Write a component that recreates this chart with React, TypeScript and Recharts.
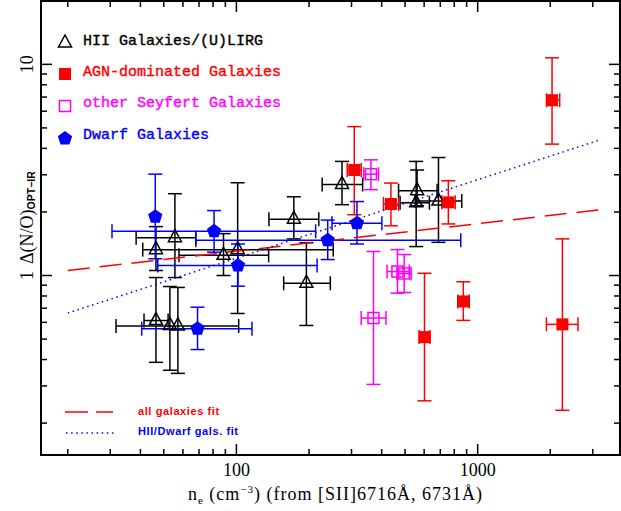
import { ErrorBar, Legend, ReferenceArea, Scatter, ScatterChart, XAxis, YAxis } from 'recharts'

const W = 621
const H = 511
const PLOT_W = 579
const PLOT_H = 454

const X_DOMAIN: [number, number] = [Math.pow(10, 1.19), Math.pow(10, 3.59)]
const Y_DOMAIN: [number, number] = [Math.pow(10, -0.85), Math.pow(10, 1.3)]

const xTicks = [20, 30, 40, 50, 60, 70, 80, 90, 100, 200, 300, 400, 500, 600, 700, 800, 900, 1000, 2000, 3000]
const yTicks = [0.2, 0.3, 0.4, 0.5, 0.6, 0.7, 0.8, 0.9, 1, 2, 3, 4, 5, 6, 7, 8, 9, 10]
const xLabeled = [100, 1000]
const yLabeled = [1, 10]

// HII galaxies / (U)LIRGs
const hiiX = [46.4, 46.4, 53.0, 57.2, 55.6, 88.4, 101.2, 195, 173, 274, 561, 556, 688]
const hiiY = [1.326, 0.612, 0.58, 0.577, 1.511, 1.246, 1.326, 0.919, 1.847, 2.7, 2.52, 2.21, 2.252]
const hiiXLo = [null, 41.4, null, 31.7, 38.4, 57.8, 40.9, 157, 136.4, 226.7, 470, 477, 551]
const hiiXHi = [null, 52.1, null, 102.2, 67.9, 136, 252, 245, 219.5, 333.5, 679, 631, 859]
const hiiYLo = [1.056, 0.388, 0.356, 0.344, 0.978, 1.0, 0.661, 0.58, 1.49, 2.165, 2.14, 1.371, 1.436]
const hiiYHi = [1.704, 0.978, 0.887, 0.878, 2.44, 1.579, 2.75, 1.43, 2.36, 3.47, 3.16, 3.47, 3.62]

// AGN-dominated
const agnX = [308, 437, 756, 2034, 602, 872, 2245]
const agnY = [3.16, 2.18, 2.22, 6.76, 0.511, 0.754, 0.587]
const agnXLo = [288, 407, 710, 1928, 572, 827, 1928]
const agnXHi = [329, 470, 807, 2188, 635, 923, 2605]
const agnYLo = [1.94, 1.72, 1.755, 4.19, 0.255, 0.613, 0.23]
const agnYHi = [5.07, 2.74, 2.81, 10.74, 1.025, 0.934, 1.491]

// other Seyferts
const seyX = [361, 370, 465, 496]
const seyY = [3.02, 0.629, 1.044, 1.022]
const seyXLo = [337, 329, 421, 463]
const seyXHi = [388, 417, 520, 530]
const seyYLo = [2.55, 0.305, 0.825, 0.831]
const seyYHi = [3.53, 1.3, 1.327, 1.257]

// dwarfs
const dwfX = [46.1, 80.8, 101.5, 239, 316, 69]
const dwfY = [1.9, 1.62, 1.115, 1.47, 1.77, 0.56]
const dwfXLo = [null, 30.5, 47.2, 67.9, 249, 40.5]
const dwfXHi = [null, 213, 216, 851, 401, 116]
const dwfYLo = [1.2, 1.29, 0.89, 1.19, 1.41, 0.446]
const dwfYHi = [3.02, 2.03, 1.41, 1.83, 2.24, 0.708]

// fits
const fitX = [20, 3162]
const fitAllY = [1.057, 2.044]
const fitHiiY = [0.664, 4.36]

const RED = '#ff0000'
const MAGENTA = '#ff00ff'
const BLUE = '#0000ff'

function rows(x: number[], y: number[], xLo: any[], xHi: any[], yLo: any[], yHi: any[]) {
  return x.map((v, i) => ({
    x: v,
    y: y[i],
    ex: xLo[i] == null ? undefined : [v - xLo[i], xHi[i] - v],
    ey: yLo[i] == null ? undefined : [y[i] - yLo[i], yHi[i] - y[i]],
  }))
}

const hiiData = rows(hiiX, hiiY, hiiXLo, hiiXHi, hiiYLo, hiiYHi)
const agnData = rows(agnX, agnY, agnXLo, agnXHi, agnYLo, agnYHi)
const seyData = rows(seyX, seyY, seyXLo, seyXHi, seyYLo, seyYHi)
const dwfData = rows(dwfX, dwfY, dwfXLo, dwfXHi, dwfYLo, dwfYHi)
const fitAll = fitX.map((x, i) => ({ x, y: fitAllY[i] }))
const fitHii = fitX.map((x, i) => ({ x, y: fitHiiY[i] }))

const Triangle = ({ cx, cy }: any) => (
  <path d={`M${cx},${cy - 8} L${cx + 6.5},${cy + 4} L${cx - 6.5},${cy + 4} Z`} fill="none" stroke="#000" strokeWidth={1.5} />
)
const FilledSquare = ({ cx, cy }: any) => <rect x={cx - 6} y={cy - 6} width={12} height={12} fill={RED} />
const OpenSquare = ({ cx, cy }: any) => (
  <rect x={cx - 5.5} y={cy - 5.5} width={11} height={11} fill="none" stroke={MAGENTA} strokeWidth={1.5} />
)
const Pentagon = ({ cx, cy }: any) => {
  const r = 7.5
  const pts = [0, 1, 2, 3, 4]
    .map(k => {
      const a = -Math.PI / 2 + (k * 2 * Math.PI) / 5
      return `${cx + r * Math.cos(a)},${cy + r * Math.sin(a)}`
    })
    .join(' ')
  return <polygon points={pts} fill={BLUE} />
}

function XTick({ x, y, payload }: any) {
  const major = xLabeled.includes(payload.value)
  const len = major ? 11 : 6
  return (
    <g>
      <line x1={x} y1={y} x2={x} y2={y - len} stroke="#000" strokeWidth={1.5} />
      <line x1={x} y1={y - PLOT_H} x2={x} y2={y - PLOT_H + len} stroke="#000" strokeWidth={1.5} />
      {major && (
        <text x={x} y={y + 21} textAnchor="middle" fontFamily="Liberation Serif" fontSize={18} fill="#000">
          {payload.value}
        </text>
      )}
    </g>
  )
}

function YTick({ x, y, payload }: any) {
  const major = yLabeled.includes(payload.value)
  const len = major ? 11 : 6
  return (
    <g>
      <line x1={x} y1={y} x2={x + len} y2={y} stroke="#000" strokeWidth={1.5} />
      <line x1={x + PLOT_W} y1={y} x2={x + PLOT_W - len} y2={y} stroke="#000" strokeWidth={1.5} />
      {major && (
        <text
          transform={`rotate(-90 ${x - 8} ${y})`}
          x={x - 8}
          y={y}
          textAnchor="middle"
          fontFamily="Liberation Serif"
          fontSize={18}
          fill="#000"
        >
          {payload.value}
        </text>
      )}
    </g>
  )
}

function XTitle({ viewBox }: any) {
  const cx = viewBox.x + viewBox.width / 2 + 5
  const by = viewBox.y + 45
  return (
    <text x={cx} y={by} textAnchor="middle" fontFamily="Liberation Serif" fontSize={18} letterSpacing={1} fill="#000">
      <tspan>n</tspan>
      <tspan fontSize={11} dy={4}>e</tspan>
      <tspan dy={-4}> (cm</tspan>
      <tspan fontSize={11} dy={-7}>−3</tspan>
      <tspan dy={7}>) (from [SII]6716Å, 6731Å)</tspan>
    </text>
  )
}

function YTitle({ viewBox }: any) {
  const bx = viewBox.x + 33
  const sy = viewBox.y + 263
  return (
    <text transform="rotate(-90)" x={-sy} y={bx} fontFamily="Liberation Serif" fontSize={18} fill="#000">
      <tspan>Δ(N/O)</tspan>
      <tspan fontFamily="Liberation Sans" fontWeight="bold" fontSize={10.5} dy={2}>OPT−IR</tspan>
    </text>
  )
}

const keyRows = [
  { label: 'HII Galaxies/(U)LIRG', color: '#000', Icon: Triangle, iy: 43, ty: 45 },
  { label: 'AGN-dominated Galaxies', color: RED, Icon: FilledSquare, iy: 74, ty: 76 },
  { label: 'other Seyfert Galaxies', color: MAGENTA, Icon: OpenSquare, iy: 106, ty: 107 },
  { label: 'Dwarf Galaxies', color: BLUE, Icon: Pentagon, iy: 138.5, ty: 139 },
]

function KeyOverlay() {
  return (
    <svg width={W} height={H} style={{ display: 'block' }}>
      {keyRows.map(r => (
        <g key={r.label}>
          <r.Icon cx={65} cy={r.iy} />
          <text x={83} y={r.ty} fontFamily="Liberation Mono" fontSize={15} stroke={r.color} strokeWidth={0.4} fill={r.color}>
            {r.label}
          </text>
        </g>
      ))}
      <line x1={65} y1={412} x2={113} y2={412} stroke={RED} strokeWidth={1.5} strokeDasharray="23 8" />
      <text x={138} y={415} fontFamily="Liberation Sans" fontWeight="bold" fontSize={11} letterSpacing={0.6} fill={RED}>
        all galaxies fit
      </text>
      <line x1={66} y1={433} x2={114} y2={433} stroke={BLUE} strokeWidth={1.5} strokeDasharray="1.5 3.6" />
      <text x={138} y={435} fontFamily="Liberation Sans" fontWeight="bold" fontSize={11} letterSpacing={0.6} fill={BLUE}>
        HII/Dwarf gals. fit
      </text>
    </svg>
  )
}

export default function App() {
  return (
    <div style={{ position: 'absolute', left: 0, top: 0, width: W, height: H, background: '#fff' }}>
      <ScatterChart width={W} height={H} margin={{ top: 1, right: 1, bottom: 0, left: 0 }}>
        <XAxis
          type="number"
          dataKey="x"
          scale="log"
          domain={X_DOMAIN}
          allowDataOverflow
          ticks={xTicks}
          interval={0}
          tickSize={0}
          tickMargin={0}
          axisLine={false}
          tickLine={false}
          height={56}
          tick={<XTick />}
          label={(p: any) => <XTitle {...p} />}
        />
        <YAxis
          type="number"
          dataKey="y"
          scale="log"
          domain={Y_DOMAIN}
          allowDataOverflow
          ticks={yTicks}
          interval={0}
          tickSize={0}
          tickMargin={0}
          axisLine={false}
          tickLine={false}
          width={41}
          tick={<YTick />}
          label={(p: any) => <YTitle {...p} />}
        />
        <ReferenceArea
          x1={X_DOMAIN[0]}
          x2={X_DOMAIN[1]}
          y1={Y_DOMAIN[0]}
          y2={Y_DOMAIN[1]}
          fill="none"
          stroke="#000"
          strokeWidth={2}
          ifOverflow="visible"
        />
        <Scatter name="all galaxies fit" data={fitAll} line={{ stroke: RED, strokeWidth: 1.5, strokeDasharray: '22 10' }} shape={() => <g />} isAnimationActive={false} />
        <Scatter name="HII/Dwarf gals. fit" data={fitHii} line={{ stroke: BLUE, strokeWidth: 1.5, strokeDasharray: '1.5 3.6' }} shape={() => <g />} isAnimationActive={false} />
        <Scatter name="HII Galaxies/(U)LIRG" data={hiiData} shape={Triangle} isAnimationActive={false}>
          <ErrorBar dataKey="ex" direction="x" width={7} stroke="#000" strokeWidth={1.5} isAnimationActive={false} />
          <ErrorBar dataKey="ey" direction="y" width={7} stroke="#000" strokeWidth={1.5} isAnimationActive={false} />
        </Scatter>
        <Scatter name="AGN-dominated Galaxies" data={agnData} shape={FilledSquare} isAnimationActive={false}>
          <ErrorBar dataKey="ex" direction="x" width={7} stroke={RED} strokeWidth={1.5} isAnimationActive={false} />
          <ErrorBar dataKey="ey" direction="y" width={7} stroke={RED} strokeWidth={1.5} isAnimationActive={false} />
        </Scatter>
        <Scatter name="other Seyfert Galaxies" data={seyData} shape={OpenSquare} isAnimationActive={false}>
          <ErrorBar dataKey="ex" direction="x" width={7} stroke={MAGENTA} strokeWidth={1.5} isAnimationActive={false} />
          <ErrorBar dataKey="ey" direction="y" width={7} stroke={MAGENTA} strokeWidth={1.5} isAnimationActive={false} />
        </Scatter>
        <Scatter name="Dwarf Galaxies" data={dwfData} shape={Pentagon} isAnimationActive={false}>
          <ErrorBar dataKey="ex" direction="x" width={7} stroke={BLUE} strokeWidth={1.5} isAnimationActive={false} />
          <ErrorBar dataKey="ey" direction="y" width={7} stroke={BLUE} strokeWidth={1.5} isAnimationActive={false} />
        </Scatter>
        <Legend
          layout="vertical"
          align="center"
          verticalAlign="middle"
          wrapperStyle={{ left: 0, top: 0, width: W, height: H, margin: 0, pointerEvents: 'none' }}
          content={() => <KeyOverlay />}
        />
      </ScatterChart>
    </div>
  )
}
